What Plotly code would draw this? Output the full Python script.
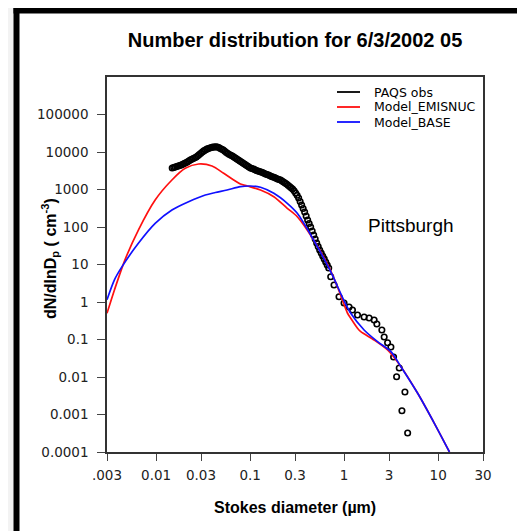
import math
import plotly.graph_objects as go

# ---------------- data ----------------
# PAQS observations: dense SMPS part followed by the sparser APS part
obs_d = [0.01482, 0.01538, 0.01595, 0.01655, 0.01717, 0.01781, 0.01849, 0.01918, 0.01990, 0.02065,
         0.02142, 0.02222, 0.02306, 0.02392, 0.02483, 0.02576, 0.02673, 0.02773, 0.02877, 0.02985,
         0.03097, 0.03213, 0.03334, 0.03459, 0.03589, 0.03724, 0.03864, 0.04009, 0.04160, 0.04316,
         0.04478, 0.04646, 0.04820, 0.05001, 0.05189, 0.05384, 0.05586, 0.05795, 0.06014, 0.06240,
         0.06474, 0.06717, 0.06969, 0.07230, 0.07502, 0.07783, 0.08077, 0.08380, 0.08695, 0.09021,
         0.09360, 0.09711, 0.1008, 0.1046, 0.1085, 0.1126, 0.1168, 0.1212, 0.1257, 0.1304,
         0.1353, 0.1404, 0.1457, 0.1512, 0.1568, 0.1627, 0.1688, 0.1751, 0.1817, 0.1885,
         0.1956, 0.2029, 0.2106, 0.2185, 0.2267, 0.2352, 0.2441, 0.2533, 0.2627, 0.2726,
         0.2828, 0.2934, 0.3045, 0.3159, 0.3278, 0.3401, 0.3529, 0.3661, 0.3799, 0.3941,
         0.4089, 0.4242, 0.4402, 0.4567, 0.4739, 0.4917, 0.5102, 0.5293, 0.5492, 0.5698,
         0.5912, 0.6134, 0.6365, 0.6604, 0.6852,
         0.7194, 0.7802, 0.882, 0.9975, 1.128, 1.226, 1.387, 1.630, 1.844, 2.084,
         2.228, 2.519, 2.666, 2.898, 3.143, 3.358, 3.854, 3.614, 4.433, 4.119, 4.737]
obs_v = [3743, 3860, 3980, 4100, 4230, 4360, 4500, 4700, 4940, 5170,
         5410, 5750, 6120, 6400, 6710, 7000, 7360, 7900, 8580, 9300,
         10000, 10700, 11300, 11900, 12400, 12800, 13180, 13450, 13600, 13700,
         13600, 13100, 12400, 11850, 11300, 10500, 9700, 9100, 8580, 8200,
         7820, 7350, 6918, 6500, 6120, 5750, 5410, 5100, 4790, 4500,
         4230, 3980, 3743, 3630, 3520, 3360, 3210, 3110, 3020, 2930,
         2840, 2710, 2590, 2510, 2440, 2330, 2220, 2150, 2090, 2000,
         1905, 1850, 1792, 1690, 1585, 1490, 1402, 1300, 1202, 1115,
         1032, 920, 807, 700, 593, 480, 386, 310, 251, 197,
         154, 124, 100, 78, 61.2, 48, 37.5, 30.2, 24.4, 20.3,
         16.9, 14.1, 11.7, 9.7, 8.07,
         4.73, 2.84, 1.385, 0.94, 0.735, 0.612, 0.450, 0.398, 0.3745, 0.331,
         0.259, 0.179, 0.1166, 0.0822, 0.063, 0.0341, 0.0174, 0.0102, 0.00398, 0.00126, 0.000321]

emis_d = [0.003, 0.0036, 0.00467, 0.00647, 0.00976, 0.01471, 0.02039, 0.02828, 0.03930, 0.0523,
          0.0668, 0.0788, 0.0929, 0.1288, 0.1786, 0.2482, 0.3173, 0.4737, 0.6846, 0.848,
          1.084, 1.176, 1.387, 1.503, 2.084, 2.898, 4.018, 6.056, 9.11, 13.2]
emis_v = [0.5, 2.1, 13.5, 83, 525, 1792, 3675, 4786, 4235, 2704,
          1792, 1402, 1240, 970, 643, 315, 188, 45, 8.74, 2.56,
          0.509, 0.3675, 0.199, 0.1614, 0.097, 0.0525, 0.01883, 0.003675, 0.000582, 0.0001]

base_d = [0.003, 0.0036, 0.0043, 0.00647, 0.00976, 0.01471, 0.02212, 0.03333, 0.04263, 0.0568,
          0.0788, 0.1007, 0.1288, 0.1786, 0.2482, 0.3173, 0.4737, 0.7194, 0.990, 1.176,
          1.630, 2.266, 3.143, 4.018, 6.056, 9.11, 13.2]
base_v = [1.15, 3.9, 8.5, 36.8, 125, 284, 473, 714, 830, 970,
          1188, 1240, 1145, 792, 429, 232, 45, 6.43, 1.13, 0.4997,
          0.179, 0.0874, 0.0473, 0.01883, 0.003675, 0.000582, 0.0001]

series_names = ["PAQS obs", "Model_EMISNUC", "Model_BASE"]
series_colors = ["black", "#ff1010", "#1010ff"]

x_tickvals = [0.003, 0.01, 0.03, 0.1, 0.3, 1, 3, 10, 30]
x_ticktext = [".003", "0.01", "0.03", "0.1", "0.3", "1", "3", "10", "30"]
y_tickvals = [1e-4, 1e-3, 1e-2, 1e-1, 1, 10, 100, 1000, 10000, 100000]
y_ticktext = ["0.0001", "0.001", "0.01", "0.1", "1", "10", "100", "1000", "10000", "100000"]

SANS = "Liberation Sans, Arial, Helvetica, sans-serif"
WIDE = "DejaVu Sans, Verdana, sans-serif"

# ---------------- figure ----------------
fig = go.Figure()
fig.add_trace(go.Scatter(x=obs_d, y=obs_v, mode="markers", showlegend=False, name=series_names[0],
                         marker=dict(symbol="circle-open", size=5.5, color="black",
                                     line=dict(width=1.6, color="black"))))
fig.add_trace(go.Scatter(x=emis_d, y=emis_v, mode="lines", showlegend=False, name=series_names[1],
                         line=dict(color=series_colors[1], width=1.7, shape="spline", smoothing=0.8)))
fig.add_trace(go.Scatter(x=base_d, y=base_v, mode="lines", showlegend=False, name=series_names[2],
                         line=dict(color=series_colors[2], width=1.7, shape="spline", smoothing=0.8)))

# The page body has an 8px margin, so the figure is 8px smaller and all
# placements below are given in window pixels and converted.
OFF = 8
W, H = 525 - OFF, 531 - OFF
PL, PR, PT, PB = 107, 483, 77, 452          # plot box in window pixels
L, R, T, B = PL - OFF, (W + OFF) - PR, PT - OFF, (H + OFF) - PB
pw, ph = PR - PL, PB - PT

def px(xw):
    return (xw - PL) / pw

def py(yw):
    return (PB - yw) / ph

axis_common = dict(showline=True, linecolor="#333", linewidth=1.5, mirror=True,
                   ticks="outside", tickcolor="#444", tickwidth=1.2,
                   showgrid=False, zeroline=False,
                   tickfont=dict(family=WIDE, size=13.5, color="#222"))

annotations = [
    dict(text="<b>dN/dlnD<sub>p</sub> ( cm<sup>-3</sup>)</b>", textangle=-90,
         xref="paper", yref="paper", x=px(50), y=py(258),
         xanchor="center", yanchor="middle", showarrow=False,
         font=dict(family=SANS, size=16, color="black")),
    dict(text="<b>Stokes diameter (\u00b5m)</b>",
         xref="paper", yref="paper", x=0.5, y=py(507),
         xanchor="center", yanchor="middle", showarrow=False,
         font=dict(family=SANS, size=16, color="black")),
    dict(text="Pittsburgh",
         xref="paper", yref="paper", x=px(411), y=py(225),
         xanchor="center", yanchor="middle", showarrow=False,
         font=dict(family=SANS, size=19, color="black")),
]

shapes = [
    dict(type="rect", xref="paper", yref="paper", layer="below",
         x0=px(OFF), x1=px(13.5), y0=py(531), y1=py(OFF),
         fillcolor="#f3f3f3", line=dict(width=0)),
    dict(type="rect", xref="paper", yref="paper",
         x0=px(13.5), x1=px(19.5), y0=py(531), y1=py(OFF),
         fillcolor="black", line=dict(width=0)),
    dict(type="rect", xref="paper", yref="paper",
         x0=px(13.5), x1=px(525), y0=py(13.5), y1=py(OFF),
         fillcolor="black", line=dict(width=0)),
]

# legend (drawn by hand to match the reference's tight row spacing)
for i, (name, col) in enumerate(zip(series_names, series_colors)):
    yrow = 92 + 15 * i
    shapes.append(dict(type="line", xref="paper", yref="paper",
                       x0=px(337), x1=px(360), y0=py(yrow), y1=py(yrow),
                       line=dict(color=col, width=1.8)))
    annotations.append(dict(text=name, xref="paper", yref="paper",
                            x=px(372), y=py(yrow), xanchor="left", yanchor="middle",
                            showarrow=False,
                            font=dict(family=WIDE, size=12.5, color="black")))

fig.update_layout(
    width=W, height=H, autosize=False,
    margin=dict(l=L, r=R, t=T, b=B),
    paper_bgcolor="white", plot_bgcolor="white",
    font=dict(family=SANS, color="black"),
    showlegend=False,
    title=dict(text="<b>Number distribution for 6/3/2002 05</b>",
               font=dict(family=SANS, size=20, color="black"),
               x=0.5, xref="paper", xanchor="center",
               y=1 - (40 - OFF) / H, yref="container", yanchor="middle"),
    xaxis=dict(type="log", range=[math.log10(0.003), math.log10(30)],
               tickvals=x_tickvals, ticktext=x_ticktext, ticklen=7,
               ticklabelstandoff=3, **axis_common),
    yaxis=dict(type="log", range=[-4, 6],
               tickvals=y_tickvals, ticktext=y_ticktext, ticklen=8,
               ticklabelstandoff=6, **axis_common),
    annotations=annotations,
    shapes=shapes,
)

fig.write_html("out.html")
